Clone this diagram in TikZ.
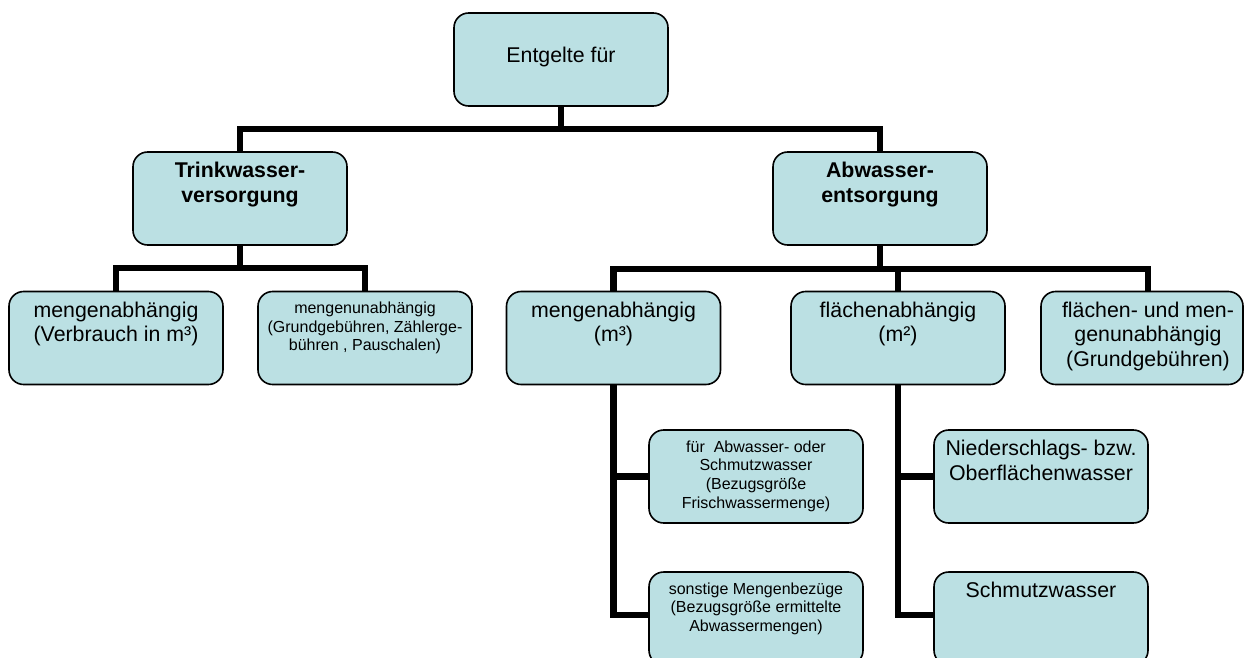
\documentclass[tikz,border=0pt]{standalone}
\usepackage{fontspec}
\setmainfont{Liberation Sans}
\definecolor{boxfill}{RGB}{187,224,227}
\begin{document}
\begin{tikzpicture}[x=0.75pt,y=-0.75pt,
  box/.style={draw=black, line width=1.2pt, fill=boxfill, rounded corners=11pt,
    minimum width=160.5pt, minimum height=69.75pt, inner sep=0pt},
  narrowbox/.style={box, minimum width=151.5pt},
  big/.style={font=\fontsize{16}{18.3}\selectfont, align=center, inner sep=0pt, anchor=north, text=black},
  small/.style={font=\fontsize{12}{14}\selectfont, align=center, inner sep=0pt, anchor=north, text=black},
  conn/.style={line width=4.7pt, draw=black}]
\useasboundingbox (0,0) rectangle (1244,657);
\clip (0,0) rectangle (1244,657);
\fill[white] (0,0) rectangle (1244,657);

% boxes
\node[box] (root)  at (561,59.5) {};
\node[box] (trink) at (240,198.5) {};
\node[box] (abw)   at (880,198.5) {};
\node[box] (l1)    at (116,338) {};
\node[box] (l2)    at (365,338) {};
\node[box] (r1)    at (613.5,338) {};
\node[box] (r2)    at (898,338) {};
\node[narrowbox] (r3) at (1142,338) {};
\node[box] (s1)    at (756,476.5) {};
\node[box] (s2)    at (756,618.5) {};
\node[box] (n1)    at (1041,476.5) {};
\node[box] (n2)    at (1041,618.5) {};

% connectors
\draw[conn] (root.south) -- ++(0,22) -| (trink.north);
\draw[conn] (root.south) -- ++(0,22) -| (abw.north);
\draw[conn] (trink.south) -- ++(0,22) -| (l1.north);
\draw[conn] (trink.south) -- ++(0,22) -| (l2.north);
\draw[conn] (abw.south) -- ++(0,23) -| (r1.north);
\draw[conn] (abw.south) -- ++(0,23) -| (r2.north);
\draw[conn] (abw.south) -- ++(0,23) -| ([xshift=4.5pt]r3.north);
\draw[conn] (r1.south) |- (s1.west);
\draw[conn] (r1.south) |- ([yshift=2.6pt]s2.west);
\draw[conn] (r2.south) |- (n1.west);
\draw[conn] (r2.south) |- ([yshift=2.6pt]n2.west);

% texts
\node[big]   (troot)  at ([yshift=-26.25pt]root.north) {Entgelte für};
\node[big]   (ttrink) at ([yshift=-8.25pt]trink.north) {\textbf{Trinkwasser-}\\\textbf{versorgung}};
\node[big]   (tabw)   at ([yshift=-8.25pt]abw.north) {\textbf{Abwasser-}\\\textbf{entsorgung}};
\node[big]   (tl1)    at ([yshift=-8.25pt]l1.north) {mengenabhängig\\(Verbrauch in m³)};
\node[small] (tl2)    at ([yshift=-8.25pt]l2.north) {mengenunabhängig\\(Grundgebühren, Zählerge-\\bühren , Pauschalen)};
\node[big]   (tr1)    at ([yshift=-8.25pt]r1.north) {mengenabhängig\\(m³)};
\node[big]   (tr2)    at ([yshift=-8.25pt]r2.north) {flächenabhängig\\(m²)};
\node[big]   (tr3)    at ([xshift=4.5pt,yshift=-8.25pt]r3.north) {flächen- und men-\\genunabhängig\\(Grundgebühren)};
\node[small] (ts1)    at ([yshift=-8.25pt]s1.north) {für\ \ Abwasser- oder\\Schmutzwasser\\(Bezugsgröße\\Frischwassermenge)};
\node[small] (ts2)    at ([yshift=-8.25pt]s2.north) {sonstige Mengenbezüge\\(Bezugsgröße ermittelte\\Abwassermengen)};
\node[big]   (tn1)    at ([yshift=-8.25pt]n1.north) {Niederschlags- bzw.\\Oberflächenwasser};
\node[big]   (tn2)    at ([yshift=-8.25pt]n2.north) {Schmutzwasser};
\end{tikzpicture}
\end{document}
